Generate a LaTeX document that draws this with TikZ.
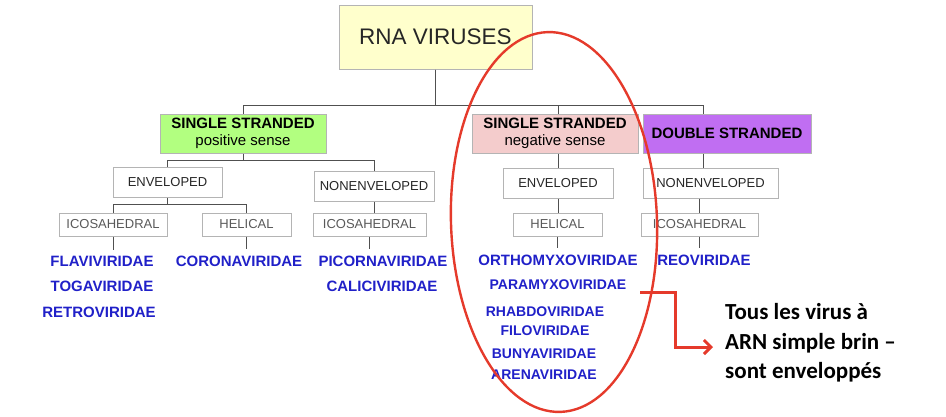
\documentclass[tikz,border=0pt]{standalone}
\usepackage{fontspec}
\setmainfont{Liberation Sans}
\newfontfamily\calloutfont{Carlito}
\usetikzlibrary{arrows.meta}
\definecolor{boxgray}{HTML}{B4B4B4}
\definecolor{linkgray}{HTML}{505050}
\definecolor{rnayellow}{HTML}{FFFFCC}
\definecolor{posgreen}{HTML}{B2FF80}
\definecolor{negpink}{HTML}{F4CCCC}
\definecolor{dspurple}{HTML}{C06EF2}
\definecolor{familyblue}{HTML}{2020C8}
\definecolor{markred}{HTML}{E53A2B}
\begin{document}
\begin{tikzpicture}
  [x=1pt, y=-1pt,
   top node/.style={draw=boxgray, line width=1pt, fill=rnayellow, font=\fontsize{22.5}{26}\selectfont, text=black!85},
   strand node/.style={draw=boxgray, line width=1pt, font=\fontsize{15}{16.5}\selectfont, align=center, inner sep=0pt, minimum height=39pt},
   env node/.style={draw=boxgray, line width=1pt, font=\fontsize{13}{15}\selectfont, text=black!85, inner sep=0pt, minimum height=30pt},
   shape node/.style={draw=boxgray, line width=1pt, font=\fontsize{13}{15}\selectfont, text=black!65, inner sep=0pt, minimum height=23pt},
   family/.style={font=\bfseries\fontsize{15}{17}\selectfont, text=familyblue, inner xsep=2pt, inner ysep=6pt},
   small family/.style={family, font=\bfseries\fontsize{14}{16}\selectfont},
   callout/.style={font=\calloutfont\bfseries\fontsize{23}{29.5}\selectfont, align=left, inner sep=0pt},
   link/.style={draw=linkgray, line width=0.9pt},
   ring/.style={draw=markred, line width=2.4pt},
   callout arrow/.style={draw=markred, line width=3pt, -{Straight Barb[length=7pt,width=14pt]}}]
  \useasboundingbox (0,0) rectangle (946,416);

  \node[top node, minimum width=193pt, minimum height=64pt] (rna) at (435.5,37) {RNA VIRUSES};

  \node[strand node, fill=posgreen, minimum width=166pt] (ssp) at (243,133.5) {\textbf{SINGLE STRANDED}\\positive sense};
  \node[strand node, fill=negpink, minimum width=166pt] (ssn) at (555,133.5) {\textbf{SINGLE STRANDED}\\negative sense};
  \node[strand node, fill=dspurple, minimum width=168pt, font=\bfseries\fontsize{15}{16.5}\selectfont] (ds) at (727,133.5) {DOUBLE STRANDED};

  \node[env node, minimum width=109pt] (env1) at (167.5,182.5) {ENVELOPED};
  \node[env node, minimum width=120pt] (nenv1) at (374,186.5) {NONENVELOPED};
  \node[env node, minimum width=110pt] (env2) at (558,183) {ENVELOPED};
  \node[env node, minimum width=135pt] (nenv3) at (710.5,183) {NONENVELOPED};

  \node[shape node, minimum width=108pt] (ico1) at (113,224.5) {ICOSAHEDRAL};
  \node[shape node, minimum width=89pt] (hel1) at (246.5,224.5) {HELICAL};
  \node[shape node, minimum width=113pt] (ico2) at (369.5,224.5) {ICOSAHEDRAL};
  \node[shape node, minimum width=89pt] (hel2) at (557.5,224.5) {HELICAL};
  \node[shape node, minimum width=117pt] (ico3) at (699.5,224.5) {ICOSAHEDRAL};

  \node[family] (flavi) at (102,261) {FLAVIVIRIDAE};
  \node[family] (toga) at (102,286) {TOGAVIRIDAE};
  \node[family] (retro) at (99,312) {RETROVIRIDAE};
  \node[family] (corona) at (239,261) {CORONAVIRIDAE};
  \node[family] (picorna) at (383,261) {PICORNAVIRIDAE};
  \node[family] (calici) at (382,286) {CALICIVIRIDAE};
  \node[family] (ortho) at (558,260) {ORTHOMYXOVIRIDAE};
  \node[small family] (para) at (558,285) {PARAMYXOVIRIDAE};
  \node[small family] (rhabdo) at (545,312) {RHABDOVIRIDAE};
  \node[small family] (filo) at (545,331) {FILOVIRIDAE};
  \node[small family] (bunya) at (544,354) {BUNYAVIRIDAE};
  \node[small family] (arena) at (544,375) {ARENAVIRIDAE};
  \node[family] (reo) at (704,260) {REOVIRIDAE};

  \node[callout, anchor=west] (note) at (725,343) {Tous les virus à\\ARN simple brin –\\sont enveloppés};

  % tree links
  \path[link] (rna.south) -- ++(0,36) -| (ssp.north);
  \path[link] (rna.south) -- ++(0,36) -| (ssn.north -| env2);
  \path[link] (rna.south) -- ++(0,36) -| ([xshift=-24pt]ds.north);
  \path[link] (ssp.south) -- ++(0,7) -| (env1.north);
  \path[link] (ssp.south) -- ++(0,7) -| (nenv1.north);
  \path[link] (env1.south) -- ++(0,6) -| (ico1.north);
  \path[link] (env1.south) -- ++(0,6) -| (hel1.north);
  \path[link] (nenv1.south) -- (nenv1.south |- ico2.north);
  \path[link] (ico1.south) -- (ico1.south |- flavi.north);
  \path[link] (hel1.south) -- (hel1.south |- corona.north);
  \path[link] (ico2.south) -- (ico2.south |- picorna.north);
  \path[link] (ssn.south -| env2) -- (env2.north);
  \path[link] (env2.south) -- (env2.south |- hel2.north);
  \path[link] (hel2.south) -- (hel2.south |- ortho.north);
  \path[link] ([xshift=-24pt]ds.south) -- ([xshift=-24pt]ds.south |- nenv3.north);
  \path[link] (ico3.north |- nenv3.south) -- (ico3.north);
  \path[link] (ico3.south) -- (ico3.south |- reo.north);

  % red marks
  \draw[ring] (554,222) ellipse [x radius=103, y radius=190, rotate=2];
  \coordinate (arrstart) at (640,292);
  \path[callout arrow] (arrstart) -- ++(35,0) |- ([xshift=-12pt, yshift=-4pt]note.west);
\end{tikzpicture}
\end{document}
